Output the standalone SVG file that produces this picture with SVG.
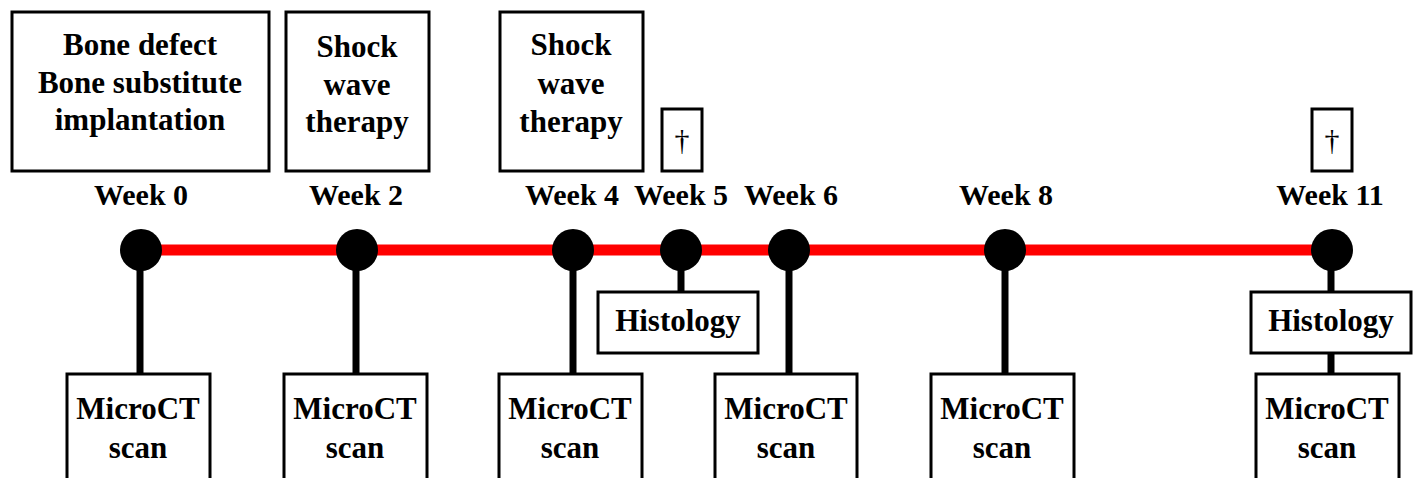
<svg xmlns="http://www.w3.org/2000/svg" width="1416" height="478" viewBox="0 0 1416 478">
<style>
.box{fill:#fff;stroke:#000;stroke-width:3}
.t{font-family:"Liberation Serif","Times New Roman",serif;font-weight:bold;font-size:31px;text-anchor:middle;fill:#000}
.wk{font-family:"Liberation Serif","Times New Roman",serif;font-weight:bold;font-size:30px;text-anchor:middle;fill:#000}
.dg{font-family:"Liberation Serif","Times New Roman",serif;font-size:30px;text-anchor:middle;fill:#000}
.stem{stroke:#000;stroke-width:7}
.dot{fill:#000}
</style>
<rect width="1416" height="478" fill="#fff"/>
<g id="connectors">
<line x1="141" y1="250" x2="1331" y2="250" stroke="#ff0000" stroke-width="11"/>
<line class="stem" x1="140" y1="250" x2="140" y2="374"/>
<line class="stem" x1="356" y1="250" x2="356" y2="374"/>
<line class="stem" x1="573" y1="250" x2="573" y2="374"/>
<line class="stem" x1="681" y1="250" x2="681" y2="292"/>
<line class="stem" x1="789" y1="250" x2="789" y2="374"/>
<line class="stem" x1="1005" y1="250" x2="1005" y2="374"/>
<line class="stem" x1="1331" y1="250" x2="1331" y2="374"/>
</g>
<g id="top-week0"><rect class="box" x="12" y="12" width="257" height="159"/>
<text class="t" x="140" y="55">Bone defect</text><text class="t" x="140" y="93">Bone substitute</text><text class="t" x="140" y="130">implantation</text></g>
<g id="top-week2"><rect class="box" x="286" y="12" width="143" height="159"/>
<text class="t" x="357" y="57">Shock</text><text class="t" x="357" y="95">wave</text><text class="t" x="357" y="132">therapy</text></g>
<g id="top-week4"><rect class="box" x="500" y="12" width="143" height="159"/>
<text class="t" x="571" y="55">Shock</text><text class="t" x="571" y="94">wave</text><text class="t" x="571" y="132">therapy</text></g>
<g id="dagger-week5"><rect class="box" x="662" y="109" width="40" height="62"/><text class="dg" x="682" y="150">†</text></g>
<g id="dagger-week11"><rect class="box" x="1312" y="109" width="40" height="62"/><text class="dg" x="1332" y="150">†</text></g>
<g id="labels">
<text class="wk" x="141" y="205">Week 0</text>
<text class="wk" x="356" y="205">Week 2</text>
<text class="wk" x="572" y="205">Week 4</text>
<text class="wk" x="681" y="205">Week 5</text>
<text class="wk" x="791" y="205">Week 6</text>
<text class="wk" x="1006" y="205">Week 8</text>
<text class="wk" x="1330" y="205">Week 11</text>
</g>
<g id="nodes">
<circle class="dot" cx="141" cy="250" r="21"/>
<circle class="dot" cx="357" cy="250" r="21"/>
<circle class="dot" cx="573" cy="250" r="21"/>
<circle class="dot" cx="681" cy="250" r="21"/>
<circle class="dot" cx="789" cy="250" r="21"/>
<circle class="dot" cx="1005" cy="250" r="21"/>
<circle class="dot" cx="1332" cy="250" r="21"/>
</g>
<g id="histology-week5"><rect class="box" x="598" y="292" width="160" height="61"/><text class="t" x="678" y="331">Histology</text></g>
<g id="histology-week11"><rect class="box" x="1251" y="292" width="160" height="61"/><text class="t" x="1331" y="331">Histology</text></g>
<g id="microct-week0"><rect class="box" x="67" y="374" width="143" height="120"/><text class="t" x="138" y="419">MicroCT</text><text class="t" x="138" y="458">scan</text></g>
<g id="microct-week2"><rect class="box" x="284" y="374" width="143" height="120"/><text class="t" x="355" y="419">MicroCT</text><text class="t" x="355" y="458">scan</text></g>
<g id="microct-week4"><rect class="box" x="499" y="374" width="143" height="120"/><text class="t" x="570" y="419">MicroCT</text><text class="t" x="570" y="458">scan</text></g>
<g id="microct-week6"><rect class="box" x="715" y="374" width="142" height="120"/><text class="t" x="786" y="419">MicroCT</text><text class="t" x="786" y="458">scan</text></g>
<g id="microct-week8"><rect class="box" x="931" y="374" width="143" height="120"/><text class="t" x="1002" y="419">MicroCT</text><text class="t" x="1002" y="458">scan</text></g>
<g id="microct-week11"><rect class="box" x="1256" y="374" width="143" height="120"/><text class="t" x="1327" y="419">MicroCT</text><text class="t" x="1327" y="458">scan</text></g>
</svg>
